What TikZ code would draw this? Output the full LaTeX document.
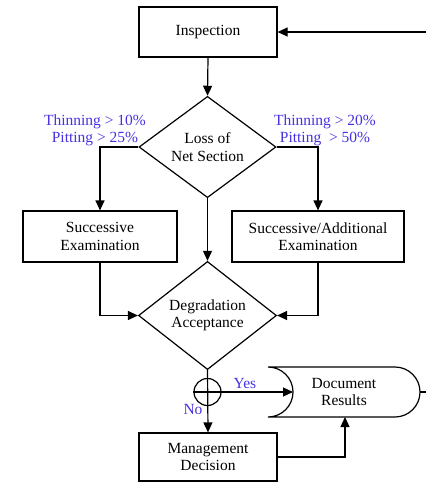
\documentclass[tikz,border=0pt]{standalone}
\usepackage{fontspec}
\setmainfont{Liberation Serif}
\usetikzlibrary{arrows.meta,shapes.geometric}
\definecolor{lblue}{RGB}{70,50,225}
\begin{document}
\begin{tikzpicture}[x=1pt,y=1pt,
  every node/.style={font=\fontsize{15.5}{17.5}\selectfont},
  box/.style={draw, line width=1.2pt, inner sep=0pt, align=center},
  dia/.style={draw, diamond, line width=1.2pt, inner sep=0pt, align=center},
  lbl/.style={text=lblue, align=center, inner sep=0pt},
  conn/.style={line width=1.2pt},
  arr/.style={conn, -{Triangle[length=10pt,width=9pt]}}]
\useasboundingbox (0,0) rectangle (426,-482);
% nodes
\node[box, minimum width=138pt, minimum height=50pt] (insp) at (208,-32) {Inspection};
\node[dia, minimum width=137pt, minimum height=93pt] (loss) at (207.5,-147) {Loss of\\Net Section};
\node[box, minimum width=154pt, minimum height=51pt] (succ) at (100,-236.5) {Successive\\Examination};
\node[box, minimum width=172pt, minimum height=51pt] (addl) at (318,-236.5) {Successive/Additional\\Examination};
\node[dia, minimum width=138pt, minimum height=95pt] (deg) at (207.5,-315.5) {Degradation\\Acceptance};
\node[draw, circle, line width=1.2pt, minimum size=27pt, inner sep=0pt] (circ) at (207.5,-392) {};
\node[box, minimum width=138pt, minimum height=48pt] (mgmt) at (208,-457) {Management\\Decision};
\node[align=center, inner sep=0pt] (docres) at (344,-392) {Document\\Results};
% document (stored data) shape
\draw[conn] (268,-367) -- (395,-367) arc[start angle=90, end angle=-90, radius=25]
  -- (268,-417) arc[start angle=-90, end angle=90, radius=25];
\coordinate (dl) at (293,-392);
\coordinate (db) at (345,-417);
\coordinate (dr) at (420,-392);
\coordinate (drout) at (426,-392);
\coordinate (fb) at (426,-32);
% labels
\node[lbl] (l1) at (95,-130.5) {Thinning > 10\%\\Pitting > 25\%};
\node[lbl] (l2) at (325,-130.5) {Thinning > 20\%\\Pitting~~> 50\%};
\node[lbl] (yes) at (245,-383) {Yes};
\node[lbl] (no) at (193,-409) {No};
% connectors
\draw[arr] (fb) -- (insp.east);
\draw[arr] (insp.south) -- (loss.north);
\draw[arr] (loss.west) -| (succ.north);
\draw[arr] (loss.east) -| (addl.north);
\draw[arr] (loss.south) -- (deg.north);
\draw[arr] (succ.south) |- (deg.west);
\draw[arr] (addl.south) |- (deg.east);
\draw[arr] (deg.south) -- (mgmt.north);
\draw[arr] (circ.west) -- (dl);
\draw[arr] (mgmt.east) -| (db);
\draw[conn] (dr) -- (drout);
\end{tikzpicture}
\end{document}
